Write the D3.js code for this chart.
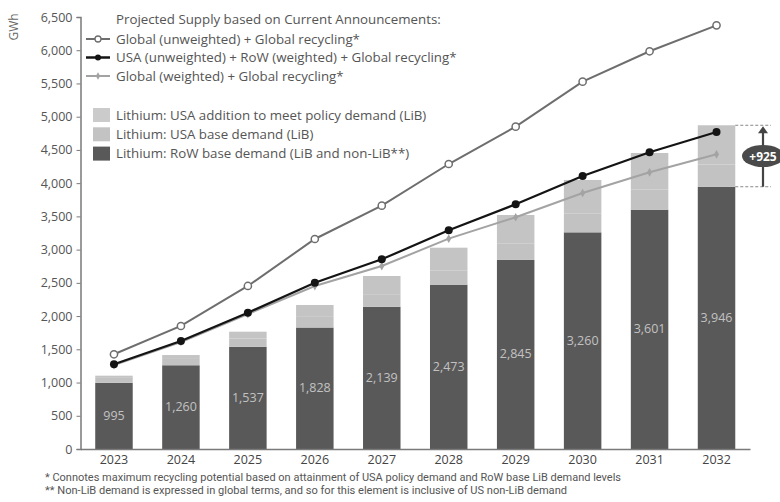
<!DOCTYPE html>
<html>
<head>
<meta charset="utf-8">
<script src="https://cdn.jsdelivr.net/npm/d3@7"></script>
<style>
  body { margin: 0; background: #fff; }
  svg { display: block; font-family: "Open Sans", "DejaVu Sans", sans-serif; }
</style>
</head>
<body>
<div id="chart"></div>
<script>
const years = ["2023", "2024", "2025", "2026", "2027", "2028", "2029", "2030", "2031", "2032"];
// stacked bars (GWh)
const rowBase = [995, 1260, 1537, 1828, 2139, 2473, 2845, 3260, 3601, 3946];
const usaBase = [75, 95, 125, 160, 190, 215, 250, 280, 305, 335];
const usaAddition = [33, 59, 103, 179, 274, 341, 426, 508, 548, 590];
// projected supply lines
const globalUnweighted = [1425, 1851, 2453, 3160, 3661, 4288, 4850, 5527, 5984, 6375];
const usaRowWeighted = [1274, 1625, 2051, 2502, 2854, 3290, 3682, 4108, 4464, 4770];
const globalWeighted = [1262, 1610, 2030, 2452, 2753, 3165, 3487, 3852, 4163, 4434];
const yTicks = [0, 500, 1000, 1500, 2000, 2500, 3000, 3500, 4000, 4500, 5000, 5500, 6000, 6500];
const policyGap = "+925";

(function () {
  const W = 780, H = 502;
  const svg = d3.select("#chart").append("svg").attr("width", W).attr("height", H);

  const x = d3.scaleBand().domain(years).range([80.5, 750]).paddingInner(0.44).paddingOuter(0.22);
  const y = d3.scaleLinear().domain([0, 6500]).range([449, 17]);
  const cx = (d) => x(d) + x.bandwidth() / 2;

  const colRow = "#595959", colBase = "#c2c2c2", colAdd = "#c4c4c4";

  // bars
  const stackData = years.map((yr, i) => ({ year: yr, row: rowBase[i], base: usaBase[i], add: usaAddition[i] }));
  const series = d3.stack().keys(["row", "base", "add"])(stackData);
  const colors = { row: colRow, base: colBase, add: colAdd };
  svg.append("g").selectAll("g").data(series).join("g")
    .attr("fill", (s) => colors[s.key])
    .selectAll("rect").data((s) => s).join("rect")
    .attr("x", (d) => x(d.data.year))
    .attr("width", x.bandwidth())
    .attr("y", (d) => y(d[1]))
    .attr("height", (d) => y(d[0]) - y(d[1]));

  // values inside dark bars
  svg.append("g").selectAll("text").data(stackData).join("text")
    .attr("x", (d) => cx(d.year))
    .attr("y", (d) => (y(0) + y(d.row)) / 2 + 4)
    .attr("text-anchor", "middle")
    .attr("font-size", 12.5)
    .attr("fill", "#c2c2c2")
    .text((d) => d3.format(",")(d.row));

  // axes
  const yAxis = svg.append("g").attr("transform", "translate(80.5,0)")
    .call(d3.axisLeft(y).tickValues(yTicks).tickFormat(d3.format(",")).tickSize(4));
  yAxis.select(".domain").attr("stroke", "#7a7a7a").attr("stroke-width", 1.5);
  yAxis.selectAll(".tick line").attr("stroke", "#7a7a7a");
  yAxis.selectAll(".tick text").attr("font-size", 12.5).attr("fill", "#555").attr("x", -8)
    .attr("font-family", "Open Sans, sans-serif");

  const xAxis = svg.append("g").attr("transform", "translate(0,449)")
    .call(d3.axisBottom(x).tickSize(0).tickSizeOuter(0));
  xAxis.select(".domain").attr("stroke", "#7a7a7a").attr("stroke-width", 1.5);
  xAxis.selectAll(".tick text").attr("font-size", 12.5).attr("fill", "#444").attr("dy", "0.95em")
    .attr("font-family", "Open Sans, sans-serif");

  svg.append("text").attr("transform", "translate(18,27) rotate(-90)")
    .attr("text-anchor", "middle").attr("font-size", 12).attr("fill", "#666").text("GWh");

  // lines
  const line = d3.line().x((d, i) => cx(years[i])).y((d) => y(d));

  svg.append("path").datum(globalWeighted).attr("d", line)
    .attr("fill", "none").attr("stroke", "#a3a3a3").attr("stroke-width", 2);
  svg.append("g").selectAll("path").data(globalWeighted).join("path")
    .attr("d", d3.symbol(d3.symbolDiamond, 22))
    .attr("transform", (d, i) => `translate(${cx(years[i])},${y(d)})`)
    .attr("fill", "#a3a3a3");

  svg.append("path").datum(usaRowWeighted).attr("d", line)
    .attr("fill", "none").attr("stroke", "#141414").attr("stroke-width", 2.2);
  svg.append("g").selectAll("circle").data(usaRowWeighted).join("circle")
    .attr("cx", (d, i) => cx(years[i])).attr("cy", (d) => y(d)).attr("r", 4)
    .attr("fill", "#141414");

  svg.append("path").datum(globalUnweighted).attr("d", line)
    .attr("fill", "none").attr("stroke", "#6e6e6e").attr("stroke-width", 2);
  svg.append("g").selectAll("circle").data(globalUnweighted).join("circle")
    .attr("cx", (d, i) => cx(years[i])).attr("cy", (d) => y(d)).attr("r", 3.6)
    .attr("fill", "#fff").attr("stroke", "#6e6e6e").attr("stroke-width", 1.5);

  // +925 annotation on last bar
  const last = years.length - 1;
  const topV = rowBase[last] + usaBase[last] + usaAddition[last];
  const x1 = x(years[last]) + x.bandwidth(), ax = 763;
  [topV, rowBase[last]].forEach((v) => {
    svg.append("line").attr("x1", x1).attr("x2", ax + 8).attr("y1", y(v)).attr("y2", y(v))
      .attr("stroke", "#888").attr("stroke-dasharray", "3,2").attr("stroke-width", 1);
  });
  svg.append("line").attr("x1", ax).attr("x2", ax).attr("y1", y(rowBase[last])).attr("y2", y(topV) + 6)
    .attr("stroke", "#444").attr("stroke-width", 2.2);
  svg.append("path").attr("d", `M${ax - 5},${y(topV) + 8}L${ax},${y(topV) + 1}L${ax + 5},${y(topV) + 8}Z`)
    .attr("fill", "#444");
  const my = (y(topV) + y(rowBase[last])) / 2;
  svg.append("ellipse").attr("cx", ax).attr("cy", my).attr("rx", 21).attr("ry", 11).attr("fill", "#4a4a4a");
  svg.append("text").attr("x", ax).attr("y", my + 4.5).attr("text-anchor", "middle")
    .attr("font-size", 12).attr("font-weight", "bold").attr("fill", "#fff").text(policyGap);

  // legend
  const lg = svg.append("g").attr("font-size", 13.3).attr("fill", "#555");
  lg.append("text").attr("x", 116).attr("y", 24).text("Projected Supply based on Current Announcements:");
  const lineItems = [
    { label: "Global (unweighted) + Global recycling*", stroke: "#6e6e6e", kind: "open" },
    { label: "USA (unweighted) + RoW (weighted) + Global recycling*", stroke: "#141414", kind: "dot" },
    { label: "Global (weighted) + Global recycling*", stroke: "#a3a3a3", kind: "diamond" },
  ];
  lineItems.forEach((it, i) => {
    const ly = 39 + i * 18.5;
    lg.append("line").attr("x1", 86).attr("x2", 110).attr("y1", ly).attr("y2", ly)
      .attr("stroke", it.stroke).attr("stroke-width", it.kind === "dot" ? 2.5 : 2);
    if (it.kind === "open") {
      lg.append("circle").attr("cx", 98).attr("cy", ly).attr("r", 3).attr("fill", "#fff").attr("stroke", it.stroke).attr("stroke-width", 1.3);
    } else if (it.kind === "dot") {
      lg.append("circle").attr("cx", 98).attr("cy", ly).attr("r", 3).attr("fill", it.stroke);
    } else {
      lg.append("path").attr("d", d3.symbol(d3.symbolDiamond, 16)).attr("transform", `translate(98,${ly})`).attr("fill", it.stroke);
    }
    lg.append("text").attr("x", 116).attr("y", ly + 4.5).text(it.label);
  });
  const barItems = [
    { label: "Lithium: USA addition to meet policy demand (LiB)", fill: "#cbcbcb" },
    { label: "Lithium: USA base demand (LiB)", fill: "#c3c3c3" },
    { label: "Lithium: RoW base demand (LiB and non-LiB**)", fill: colRow },
  ];
  barItems.forEach((it, i) => {
    const ly = 115 + i * 19.3;
    lg.append("rect").attr("x", 93).attr("y", ly - 7).attr("width", 17).attr("height", 14).attr("fill", it.fill);
    lg.append("text").attr("x", 116).attr("y", ly + 4.5).text(it.label);
  });

  // footnotes
  const notes = [
    "* Connotes maximum recycling potential based on attainment of USA policy demand and RoW base LiB demand levels",
    "** Non-LiB demand is expressed in global terms, and so for this element is inclusive of US non-LiB demand",
  ];
  const noteW = [576, 522];
  svg.append("g").selectAll("text").data(notes).join("text")
    .attr("x", 45).attr("y", (d, i) => 481 + i * 13)
    .attr("font-size", 10.5).attr("fill", "#555")
    .attr("font-family", "Liberation Sans Narrow, Roboto, sans-serif")
    .attr("textLength", (d, i) => noteW[i]).attr("lengthAdjust", "spacingAndGlyphs")
    .text((d) => d);
})();
</script>
</body>
</html>
